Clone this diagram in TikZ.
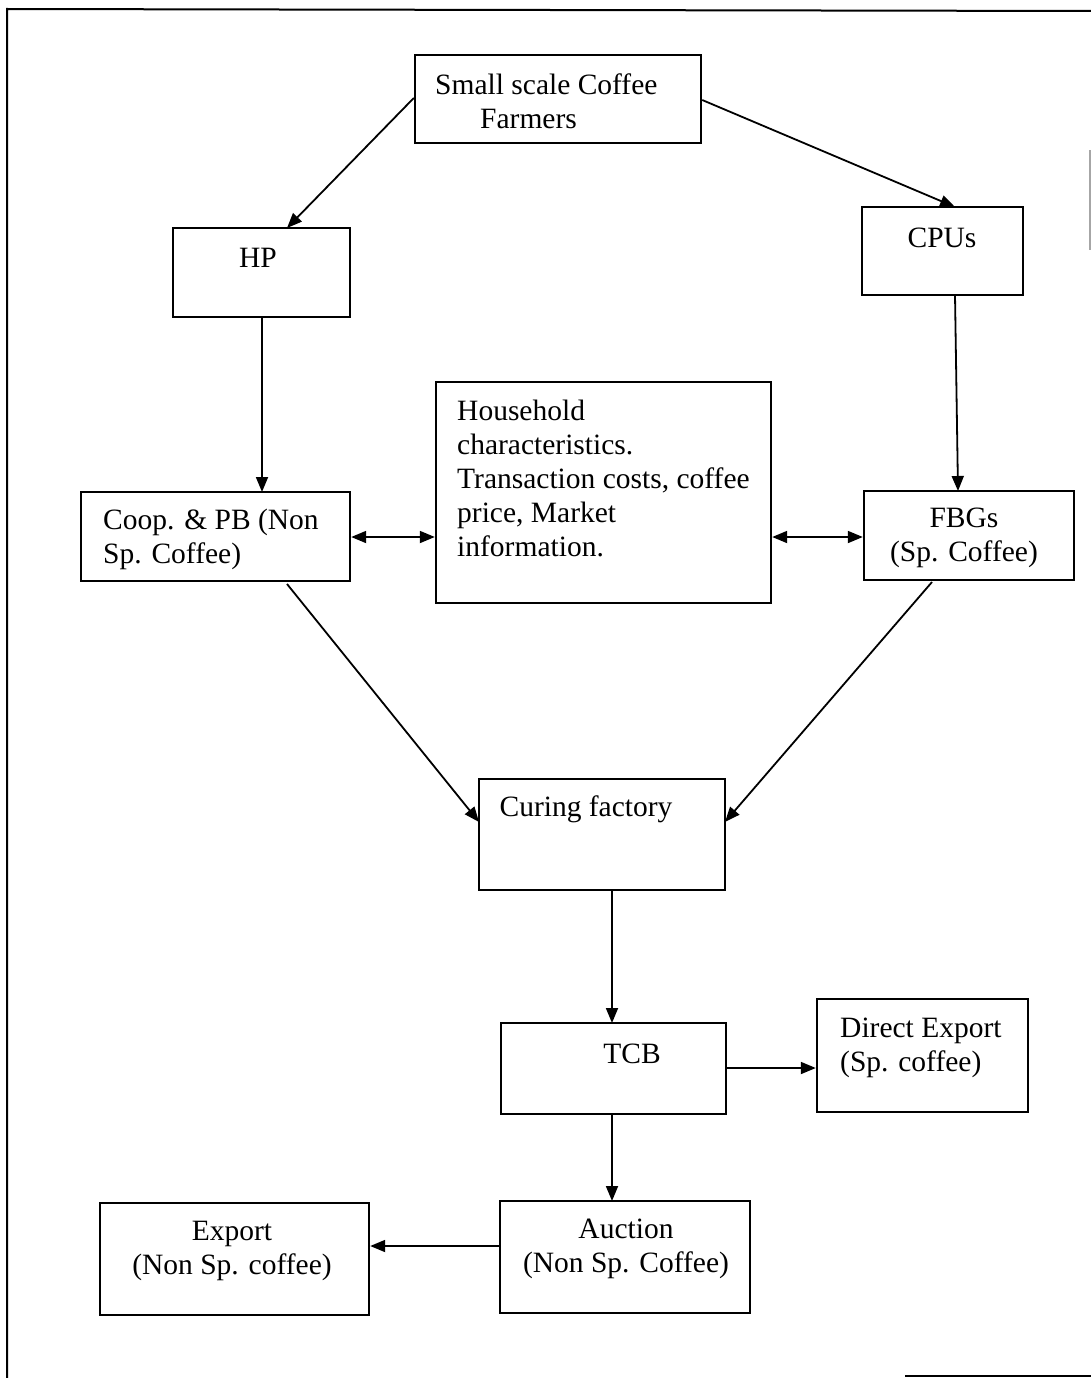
\documentclass[tikz,border=0pt]{standalone}
\usepackage{fontspec}
\setmainfont{Liberation Serif}
\usetikzlibrary{arrows.meta}
\begin{document}
\begin{tikzpicture}[x=1pt,y=-1pt,
  box/.style={draw, line width=2.4pt, inner sep=0pt},
  txt/.style={inner sep=0pt, font=\fontsize{29.5}{34}\selectfont},
  arr/.style={line width=1.8pt, -{Triangle[length=15pt,width=12pt]}},
  darr/.style={line width=1.8pt, {Triangle[length=15pt,width=12pt]}-{Triangle[length=15pt,width=12pt]}},
  frame/.style={line width=2pt}]
\useasboundingbox (0,0) rectangle (1091,1378);
% outer frame
\coordinate (f1) at (7,1378);
\coordinate (f2) at (7,9);
\coordinate (f3) at (1091,11);
\coordinate (f4) at (905,1376);
\coordinate (f5) at (1091,1376);
\coordinate (g1) at (1090,150);
\coordinate (g2) at (1090,250);
\draw[frame] (f1) -- (f2) -- (f3);
\draw[frame] (f4) -- (f5);
\draw[line width=1.5pt, black!35] (g1) -- (g2);
% boxes
\node[box, minimum width=286pt, minimum height=88pt] (ssf) at (558,99) {};
\node[box, minimum width=177pt, minimum height=89pt] (hp) at (261.5,272.5) {};
\node[box, minimum width=161pt, minimum height=88pt] (cpu) at (942.5,251) {};
\node[box, minimum width=335pt, minimum height=221pt] (hh) at (603.5,492.5) {};
\node[box, minimum width=269pt, minimum height=89pt] (coop) at (215.5,536.5) {};
\node[box, minimum width=210pt, minimum height=89pt] (fbg) at (969,535.5) {};
\node[box, minimum width=246pt, minimum height=111pt] (cur) at (602,834.5) {};
\node[box, minimum width=225pt, minimum height=91pt] (tcb) at (613.5,1068.5) {};
\node[box, minimum width=211pt, minimum height=113pt] (dex) at (922.5,1055.5) {};
\node[box, minimum width=250pt, minimum height=112pt] (auc) at (625,1257) {};
\node[box, minimum width=269pt, minimum height=112pt] (exp) at (234.5,1259) {};
% texts
\node[txt, align=left, anchor=west] (tssf) at (435,101) {Small scale Coffee\\\hspace*{45pt}Farmers};
\node[txt] (thp) at (258,258) {HP};
\node[txt] (tcpu) at (942,238) {CPUs};
\node[txt, align=left, anchor=north west] (thh) at (457,400) {Household\\characteristics.\\Transaction costs, coffee\\price, Market\\information.};
\node[txt, align=left, anchor=west] (tcoop) at (103,539) {Coop. \& PB (Non\\Sp. Coffee)};
\node[txt, align=center] (tfbg) at (964,538) {FBGs\\(Sp. Coffee)};
\node[txt] (tcur) at (586,809) {Curing factory};
\node[txt] (ttcb) at (632,1054) {TCB};
\node[txt, align=left, anchor=west] (tdex) at (840,1048) {Direct Export\\(Sp. coffee)};
\node[txt, align=center] (tauc) at (626,1249) {Auction\\(Non Sp. Coffee)};
\node[txt, align=center] (texp) at (232,1251) {Export\\(Non Sp. coffee)};
% connectors
\draw[arr] (ssf.west |- 0,98) -- (287,228);
\draw[arr] (ssf.east |- 0,100) -- (955,207);
\draw[arr] (262,317) -- (262,492);
\draw[arr] (955,295) -- (958,491);
\draw[darr] (coop.east |- 0,537) -- (hh.west |- 0,537);
\draw[darr] (hh.east |- 0,537) -- (fbg.west |- 0,537);
\draw[arr] (287,584) -- (479,822);
\draw[arr] (932,582) -- (725,822);
\draw[arr] (612,890) -- (612,1023);
\draw[arr] (tcb.east |- 0,1068) -- (dex.west |- 0,1068);
\draw[arr] (612,1114) -- (612,1201);
\draw[arr] (auc.west |- 0,1246) -- (exp.east |- 0,1246);
\end{tikzpicture}
\end{document}
